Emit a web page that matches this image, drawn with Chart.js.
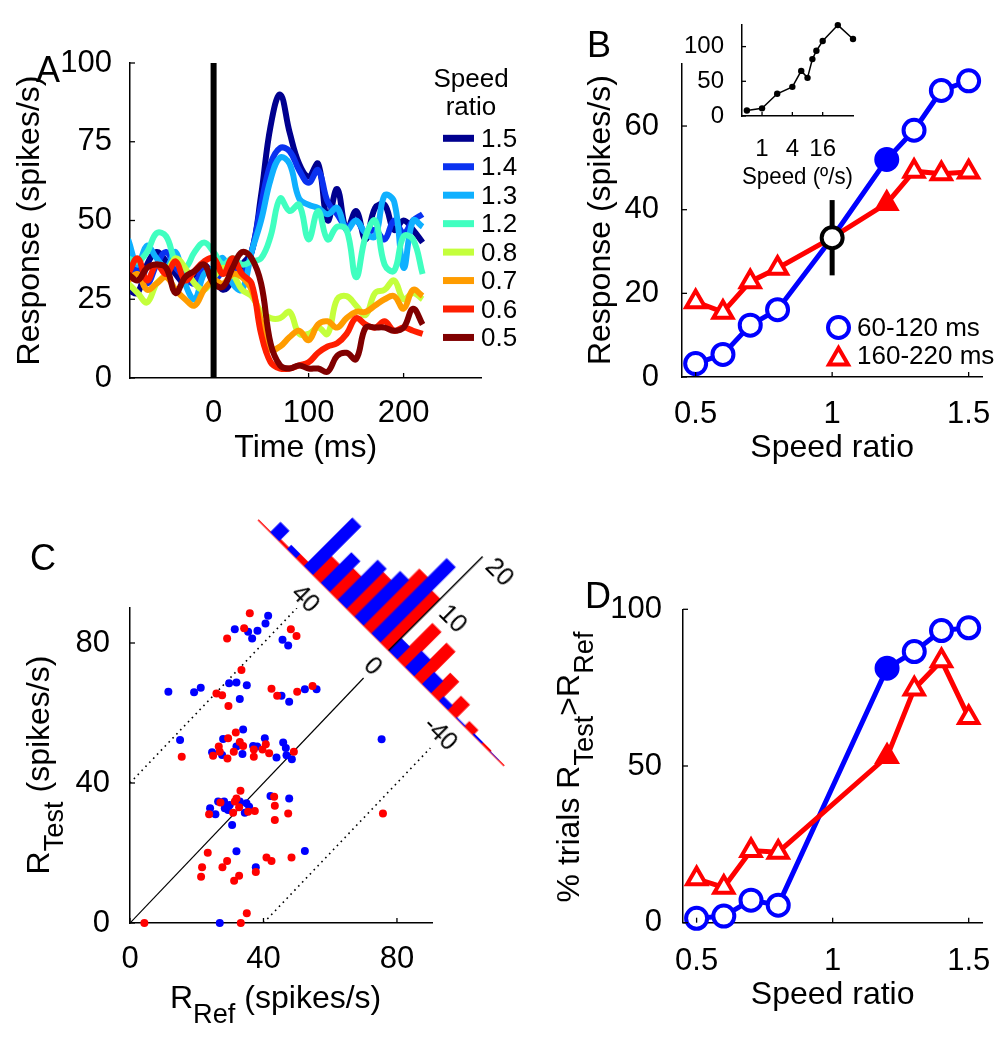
<!DOCTYPE html>
<html>
<head>
<meta charset="utf-8">
<script src="https://cdn.jsdelivr.net/npm/chart.js@4.4.1/dist/chart.umd.min.js"></script>
<style>
  html, body { margin: 0; padding: 0; background: #fff; }
  body { width: 1003px; height: 1050px; position: relative; overflow: hidden;
         font-family: "Liberation Sans", Arial, Helvetica, sans-serif; color: #000; }
  canvas { position: absolute; }
  .txt { position: absolute; white-space: nowrap; font-size: 32px; line-height: 1; }
  .rot { transform: translate(-50%, -50%) rotate(-90deg); }
  .letter { position: absolute; font-size: 36px; line-height: 1; }
  sub { font-size: 0.85em; vertical-align: -0.55em; line-height: 0; }
</style>
</head>
<body>
<canvas id="chartA" width="560" height="490" style="left:0;top:0"></canvas>
<canvas id="chartB" width="540" height="490" style="left:500px;top:0"></canvas>
<canvas id="chartInset" width="240" height="200" style="left:640px;top:0"></canvas>
<canvas id="chartC" width="500" height="570" style="left:0;top:480px"></canvas>
<canvas id="chartHist" width="420" height="300" style="left:170.5px;top:492.5px;transform:rotate(45deg)"></canvas>
<canvas id="chartD" width="540" height="570" style="left:500px;top:480px"></canvas>

<div class="letter" style="left:36px;top:52px">A</div>
<div class="letter" style="left:587px;top:27px">B</div>
<div class="letter" style="left:30px;top:540px">C</div>
<div class="letter" style="left:585px;top:578px">D</div>

<div class="txt rot" style="left:38px;top:765px">R<sub>Test</sub> (spikes/s)</div>
<div class="txt" style="left:170px;top:981px">R<sub>Ref</sub> (spikes/s)</div>
<div class="txt rot" style="left:568px;top:767px">% trials R<sub>Test</sub>&gt;R<sub>Ref</sub></div>

<script>
// ---- panel A: response time course for each speed ratio
const timeMs = [-90,-80,-70,-60,-50,-40,-30,-20,-10,0,10,20,30,40,50,60,70,80,90,100,110,120,130,140,150,160,170,180,190,200,210,220];
const resp15 = [28,27,36,40,37,33,30,33,36,32, 28,31,36,40,58,80,90,78,68,64, 68,50,60,47,53,44,54,55,47,50, 47,43];
const resp14 = [32,35,30,36,40,35,32,30,35,31, 34,36,33,40,55,68,73,72,66,62, 66,56,52,48,50,46,47,44,50,46, 50,52];
const resp13 = [44,36,42,38,35,40,30,25,33,35, 38,30,28,40,50,63,70,68,57,55, 54,52,54,47,50,46,45,58,56,35, 50,48];
const resp12 = [38,37,40,46,45,37,35,40,43,40, 36,38,36,37,38,45,57,53,55,44, 53,44,48,47,32,45,50,36,34,45, 44,33];
const resp08 = [30,27,24,30,33,38,35,30,28,32, 35,33,28,26,21,19,19,21,14,14, 16,14,25,26,23,20,27,28,31,25, 27,25];
const resp07 = [31,33,28,30,32,28,25,23,28,31, 30,33,32,28,18,9,10,13,15,12, 17,18,16,19,21,21,23,25,26,22, 28,26];
const resp06 = [33,38,31,36,33,37,31,34,37,38, 33,38,33,30,14,5,3,3,4,5, 8,10,11,14,19,17,16,18,15,16, 15,14];
const resp05 = [33,31,35,36,35,27,32,34,36,30, 29,35,40,38,30,11,4,3,4,3, 3,2,7,8,6,16,16,16,15,16, 22,17];
const ratioLabels = ['1.5','1.4','1.3','1.2','0.8','0.7','0.6','0.5'];
const ratioColors = ['#00008f','#0a32f0','#0fb0ff','#40ffc0','#c4ff3c','#ff9c00','#ff1e00','#800000'];
const timeTicks = [0, 100, 200];
const respTicksA = [0, 25, 50, 75, 100];

// ---- panel B: mean response vs speed ratio, and the speed tuning inset
const speedRatio = [0.5, 0.6, 0.7, 0.8, 1.0, 1.2, 1.3, 1.4, 1.5];
const respEarly = [3.2, 5.4, 12.4, 16.1, 33.3, 52, 59, 68.5, 70.8];
const respLate = [18, 15.5, 22.8, 26, 33.3, 41.5, 49.2, 48.6, 49];
const refPoint = { x: 1.0, y: 33.3 };
const refErr = [24.3, 42.3];
const windowLabels = ['60-120 ms', '160-220 ms'];
const ratioTicks = [0.5, 1, 1.5];
const respTicksB = [0, 20, 40, 60];
const speeds = [0.5, 1, 2, 4, 6, 8, 10, 12, 16, 32, 64];
const tuning = [8, 11, 32, 42, 65, 55, 82, 94, 108, 131, 111];
const speedTicks = [1, 4, 16];
const tuningTicks = [0, 50, 100];

// ---- panel C: single-trial responses and difference histogram
const refBlue  = [41.4,40.6,31.4,35.4,38.2,36.6,45.7,47.4, 11.5,19.2,21.2,29.7,31.9,35.0,32.9,45.4,47.7,52.4,55.9,
                  15.0,33.9,27.9,40.4,45.9,46.7,24.6,27.6,31.9,33.7,36.9,38.1,43.9,46.9,48.5,75.4,
                  26.4,28.2,29.9,32.9,34.9,35.7,25.6,28.4,29.4,34.4,30.6,42.1,47.7,24.0, 31.9,52.4,37.7,26.9];
const testBlue = [87.8,85.6,83.9,83.2,83.5,81.3,80.9,79.3, 66.1,65.9,67.2,68.5,68.7,67.9,64.0,64.9,63.2,66.8,66.8,
                  52.3,55.3,52.6,52.8,51.6,50.0,48.8,48.0,50.4,48.3,50.6,50.4,47.3,47.9,46.8,52.5,
                  34.7,34.7,33.7,34.7,34.2,33.2,31.1,32.8,32.3,31.5,28.0,36.3,35.6,32.8, 20.5,20.6,15.9,0];
const refRed   = [35.9,34.2,29.1,48.2,49.9, 33.4,25.9,27.6,29.5,42.4,44.1,50.1,54.7,
                  15.5,31.7,29.4,40.7,26.6,26.9,24.9,29.2,31.1,32.9,33.9,37.1,37.1,39.7,41.7,49.1,
                  33.1,27.1,31.9,31.4,32.7,23.7,30.9,35.4,37.4,43.2,43.4,47.4,43.4,75.8,
                  23.3,29.1,21.6,27.7,40.9,42.4,48.4,37.7,21.3,32.7,31.2, 35.0,4.3,33.2];
const testRed  = [88.5,84.2,81.3,83.9,82.0, 72.3,65.6,65.1,62.0,66.9,64.9,66.1,67.7,
                  47.5,54.4,52.8,51.1,50.4,48.9,47.8,47.0,48.9,51.7,50.6,49.6,47.5,49.6,48.5,48.9,
                  37.8,34.4,35.6,34.7,33.1,31.1,31.5,31.8,32.0,36.1,33.5,31.3,29.4,31.3,
                  20.1,17.7,15.9,15.9,18.7,17.7,18.7,14.6,13.2,13.5,12.1, 2.8,0,0];
const identityX = [0, 70];
const bandOffset = 40;
const bandUpperX = [0, 50];
const bandLowerX = [40, 90];
const spikeTicks = [0, 40, 80];
const binCenters = [65, 55, 45, 35, 25, 15, 5, -5, -15, -25, -35, -45, -55, -65];
const countBlue = [2.2, 0.9, 10.3, 6.5, 8.5, 9.7, 16, 2.7, 3.5, 2.6, 1, 0.2, 0.3, 0.1];
const countRed  = [0.4, 0.9, 4, 5, 7.8, 12, 11, 7.6, 7, 4.2, 2.9, 1.1, 0.3, 0.1];
const diffTicks = [40, 0, -40];
const countTicks = [10, 20];

// ---- panel D: percent of trials with R_test > R_ref
const ratioD = [0.5, 0.6, 0.7, 0.8, 1.2, 1.3, 1.4, 1.5];
const pctEarly = [1.4, 2.1, 7.2, 5.6, 81.2, 86.5, 93.2, 94.1];
const pctLate = [14, 11.3, 23, 22.5, 53, 74.6, 83.6, 65.5];
const pctTicks = [0, 50, 100];

const BLUE = '#0000ff', RED = '#ff0000';
const FONT = '"Liberation Sans", Arial, Helvetica, sans-serif';
Chart.defaults.font.family = FONT;
Chart.defaults.color = '#000';
Chart.defaults.animation = false;
Chart.defaults.events = [];
Chart.defaults.plugins.legend.display = false;
Chart.defaults.plugins.tooltip.enabled = false;

const xy = (xs, ys) => xs.map((x, i) => ({ x: x, y: ys[i] }));
const fixTicks = values => s => { s.ticks = values.map(v => ({ value: v })); };
const str = v => String(v);

// padding so the plot area lands on a given page rectangle
function padFor(cv, plot, yw, xh) {
  const l = parseFloat(cv.style.left) || 0, t = parseFloat(cv.style.top) || 0;
  return { left: plot.l - l - yw, top: plot.t - t, right: l + cv.width - plot.r, bottom: t + cv.height - plot.b - xh };
}

function axis(o) {
  const a = {
    grid: { display: false },
    border: { color: o.line || '#000', width: 1.5 },
    afterBuildTicks: fixTicks(o.ticks),
    ticks: { padding: o.pad, font: { size: o.size || 31 }, callback: str },
    afterFit: o.fit
  };
  if (o.title) a.title = { display: true, text: o.title, font: { size: o.tsize || 32 }, padding: 0 };
  ['type', 'min', 'max', 'reverse', 'offset', 'display'].forEach(k => { if (o[k] !== undefined) a[k] = o[k]; });
  return a;
}

// matlab style ticks pointing into the plot
const inwardTicks = {
  id: 'inwardTicks',
  afterDatasetsDraw(chart, args, opts) {
    if (!opts.len) return;
    const ctx = chart.ctx, a = chart.chartArea;
    const xs = chart.scales.x, ys = chart.scales.y;
    ctx.save();
    ctx.strokeStyle = '#000';
    ctx.lineWidth = 1.3;
    xs.ticks.forEach(t => {
      const p = xs.getPixelForValue(t.value);
      ctx.beginPath(); ctx.moveTo(p, a.bottom); ctx.lineTo(p, a.bottom - opts.len); ctx.stroke();
    });
    ys.ticks.forEach(t => {
      const p = ys.getPixelForValue(t.value);
      ctx.beginPath(); ctx.moveTo(a.left, p); ctx.lineTo(a.left + opts.len, p); ctx.stroke();
    });
    ctx.restore();
  }
};

// ---------------- A
const legendA = {
  id: 'legendA',
  afterDraw(chart) {
    const ctx = chart.ctx;
    ctx.save();
    ctx.font = '26px ' + FONT;
    ctx.fillStyle = '#000';
    ctx.textBaseline = 'middle';
    ctx.textAlign = 'center';
    ctx.fillText('Speed', 471, 80);
    ctx.fillText('ratio', 471, 108);
    ctx.textAlign = 'left';
    ratioLabels.forEach((lab, i) => {
      const y = 138.3 + i * 28.45;
      ctx.strokeStyle = ratioColors[i];
      ctx.lineWidth = 7;
      ctx.beginPath(); ctx.moveTo(443, y); ctx.lineTo(474, y); ctx.stroke();
      ctx.fillText(lab, 481, y + 1.5);
    });
    ctx.restore();
  }
};

const seriesA = [resp15, resp14, resp13, resp12, resp08, resp07, resp06, resp05];
const cA = document.getElementById('chartA');
const dsA = [{ data: [{ x: 0, y: 0 }, { x: 0, y: 100 }], borderColor: '#000', borderWidth: 6, tension: 0 }];
for (let i = seriesA.length - 1; i >= 0; i--) {
  dsA.push({ data: xy(timeMs, seriesA[i]), borderColor: ratioColors[i], borderWidth: 6 });
}
new Chart(cA, {
  type: 'line',
  data: { datasets: dsA },
  options: {
    responsive: false,
    layout: { padding: padFor(cA, { l: 130, t: 63, r: 481.5, b: 378 }, 119, 89) },
    elements: { point: { radius: 0 }, line: { tension: 0.4, borderCapStyle: 'butt' } },
    scales: {
      x: axis({ type: 'linear', min: -88, max: 282, ticks: timeTicks, pad: 9, title: 'Time (ms)', fit: s => { s.height = 89; } }),
      y: axis({ min: 0, max: 100, ticks: respTicksA, pad: 10, title: 'Response (spikes/s)', fit: s => { s.width = 119; } })
    },
    plugins: { inwardTicks: { len: 5 } }
  },
  plugins: [inwardTicks, legendA]
});

// ---------------- B
const legendB = {
  id: 'legendB',
  afterDraw(chart) {
    const ctx = chart.ctx, ox = 500;
    ctx.save();
    ctx.lineWidth = 4;
    ctx.fillStyle = '#fff';
    ctx.strokeStyle = BLUE;
    Chart.helpers.drawPoint(ctx, { pointStyle: 'circle', radius: 10.5, borderWidth: 4, rotation: 0 }, 838.5 - ox, 327.5);
    ctx.strokeStyle = RED;
    Chart.helpers.drawPoint(ctx, { pointStyle: 'triangle', radius: 11, borderWidth: 4, rotation: 0 }, 838.5 - ox, 359);
    ctx.fillStyle = '#000';
    ctx.font = '26px ' + FONT;
    ctx.textBaseline = 'middle';
    ctx.textAlign = 'left';
    ctx.fillText(windowLabels[0], 857 - ox, 329);
    ctx.fillText(windowLabels[1], 857 - ox, 357);
    ctx.restore();
  }
};

const idxRef = speedRatio.indexOf(1.0), idxFill = speedRatio.indexOf(1.2);
const cB = document.getElementById('chartB');
new Chart(cB, {
  type: 'line',
  data: {
    datasets: [
      { data: [refPoint], showLine: false, pointRadius: 10.5, pointBorderWidth: 4, pointBorderColor: '#000', pointBackgroundColor: '#fff' },
      { data: refErr.map(v => ({ x: refPoint.x, y: v })), borderColor: '#000', borderWidth: 5, pointRadius: 0 },
      { data: xy(speedRatio, respLate), borderColor: RED, borderWidth: 5, pointStyle: 'triangle',
        pointRadius: speedRatio.map((r, i) => i === idxRef ? 0 : 11), pointBorderWidth: 4, pointBorderColor: RED,
        pointBackgroundColor: speedRatio.map((r, i) => i === idxFill ? RED : '#fff') },
      { data: xy(speedRatio, respEarly), borderColor: BLUE, borderWidth: 5, pointStyle: 'circle',
        pointRadius: speedRatio.map((r, i) => i === idxRef ? 0 : 10.5), pointBorderWidth: 4, pointBorderColor: BLUE,
        pointBackgroundColor: speedRatio.map((r, i) => i === idxFill ? BLUE : '#fff') }
    ]
  },
  options: {
    responsive: false,
    layout: { padding: padFor(cB, { l: 682, t: 63.3, r: 982.3, b: 377 }, 100, 90) },
    elements: { line: { tension: 0 } },
    datasets: { line: { clip: false } },
    scales: {
      x: axis({ type: 'linear', min: 0.45, max: 1.55, ticks: ratioTicks, pad: 11, title: 'Speed ratio', fit: s => { s.height = 90; } }),
      y: axis({ min: 0, max: 75, ticks: respTicksB, pad: 15, title: 'Response (spikes/s)', fit: s => { s.width = 100; } })
    },
    plugins: { inwardTicks: { len: 5 } }
  },
  plugins: [inwardTicks, legendB]
});

// inset: speed tuning
const cI = document.getElementById('chartInset');
new Chart(cI, {
  type: 'line',
  data: { datasets: [{ data: xy(speeds, tuning), borderColor: '#000', borderWidth: 1.5, pointRadius: 3.2,
    pointBackgroundColor: '#000', pointBorderWidth: 0, tension: 0, clip: false }] },
  options: {
    responsive: false,
    layout: { padding: padFor(cI, { l: 742, t: 10.4, r: 853, b: 116 }, 60, 76) },
    scales: {
      x: axis({ type: 'logarithmic', min: 0.4, max: 64, ticks: speedTicks, pad: 11, size: 24, title: 'Speed (\u00ba/s)', tsize: 24, fit: s => { s.height = 76; } }),
      y: axis({ min: 0, max: 132, ticks: tuningTicks, pad: 10, size: 24, fit: s => { s.width = 60; } })
    },
    plugins: { inwardTicks: { len: 4 } }
  },
  plugins: [inwardTicks]
});

// ---------------- C
const cC = document.getElementById('chartC');
new Chart(cC, {
  type: 'scatter',
  data: {
    datasets: [
      { data: xy(refRed, testRed), pointRadius: 4, pointBackgroundColor: RED, pointBorderWidth: 0, clip: false },
      { data: xy(refBlue, testBlue), pointRadius: 4, pointBackgroundColor: BLUE, pointBorderWidth: 0, clip: false },
      { data: identityX.map(x => ({ x: x, y: x })), showLine: true, borderColor: '#000', borderWidth: 1.2, pointRadius: 0 },
      { data: bandUpperX.map(x => ({ x: x, y: x + bandOffset })), showLine: true, borderColor: '#000', borderWidth: 1.6, borderDash: [1.6, 4], pointRadius: 0 },
      { data: bandLowerX.map(x => ({ x: x, y: x - bandOffset })), showLine: true, borderColor: '#000', borderWidth: 1.6, borderDash: [1.6, 4], pointRadius: 0 }
    ]
  },
  options: {
    responsive: false,
    layout: { padding: padFor(cC, { l: 130, t: 608, r: 432, b: 923 }, 70, 60) },
    scales: {
      x: axis({ type: 'linear', min: 0, max: 90.5, ticks: spikeTicks, pad: 10, fit: s => { s.height = 60; } }),
      y: axis({ min: 0, max: 90, ticks: spikeTicks, pad: 12, fit: s => { s.width = 70; } })
    },
    plugins: { inwardTicks: { len: 5 } }
  },
  plugins: [inwardTicks]
});

// rotated histogram of R_test - R_ref; the count axis sits at a difference of 0
const countAxis = {
  id: 'countAxis',
  afterDatasetsDraw(chart) {
    const ctx = chart.ctx, xs = chart.scales.x, ys = chart.scales.y;
    const x0 = xs.getPixelForValue(0);
    ctx.save();
    ctx.strokeStyle = '#000';
    ctx.lineWidth = 1.5;
    ctx.beginPath(); ctx.moveTo(x0, ys.getPixelForValue(0)); ctx.lineTo(x0, ys.getPixelForValue(ys.max)); ctx.stroke();
    ctx.fillStyle = '#000';
    ctx.font = '25px ' + FONT;
    ctx.textAlign = 'left';
    ctx.textBaseline = 'middle';
    countTicks.forEach(v => ctx.fillText(String(v), x0 + 9, ys.getPixelForValue(v)));
    ctx.restore();
  }
};
const cH = document.getElementById('chartHist');
new Chart(cH, {
  type: 'bar',
  data: {
    datasets: [
      { data: xy(binCenters, countBlue), backgroundColor: BLUE },
      { data: xy(binCenters, countRed), backgroundColor: RED }
    ]
  },
  options: {
    responsive: false,
    layout: { padding: { left: 37, right: 37, top: 17, bottom: 90 } },
    datasets: { bar: { categoryPercentage: 1, barPercentage: 1.08 } },
    scales: {
      x: axis({ type: 'linear', min: -68, max: 77, reverse: true, offset: false, ticks: diffTicks, pad: 0, size: 25, line: RED, fit: s => { s.height = 60; } }),
      y: { display: false, min: 0, max: 20 }
    }
  },
  plugins: [countAxis]
});

// ---------------- D
const cD = document.getElementById('chartD');
const idxFillD = ratioD.indexOf(1.2);
new Chart(cD, {
  type: 'line',
  data: {
    datasets: [
      { data: xy(ratioD, pctLate), borderColor: RED, borderWidth: 5, pointStyle: 'triangle', pointRadius: 11,
        pointBorderWidth: 4, pointBorderColor: RED, pointBackgroundColor: ratioD.map((r, i) => i === idxFillD ? RED : '#fff') },
      { data: xy(ratioD, pctEarly), borderColor: BLUE, borderWidth: 5, pointStyle: 'circle', pointRadius: 10.5,
        pointBorderWidth: 4, pointBorderColor: BLUE, pointBackgroundColor: ratioD.map((r, i) => i === idxFillD ? BLUE : '#fff') }
    ]
  },
  options: {
    responsive: false,
    layout: { padding: padFor(cD, { l: 683, t: 609.3, r: 982.3, b: 922.7 }, 80, 92) },
    elements: { line: { tension: 0 } },
    datasets: { line: { clip: false } },
    scales: {
      x: axis({ type: 'linear', min: 0.45, max: 1.55, ticks: ratioTicks, pad: 12, title: 'Speed ratio', fit: s => { s.height = 92; } }),
      y: axis({ min: 0, max: 100, ticks: pctTicks, pad: 13, fit: s => { s.width = 80; } })
    },
    plugins: { inwardTicks: { len: 5 } }
  },
  plugins: [inwardTicks]
});
</script>
</body>
</html>
